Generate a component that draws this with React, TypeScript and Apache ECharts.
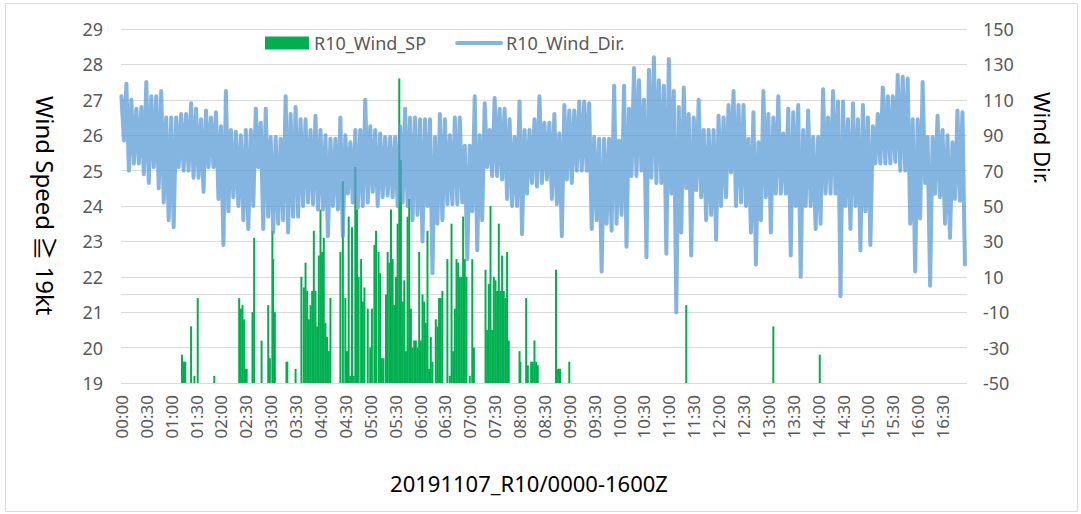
import React, { useEffect, useRef } from "react";
import * as echarts from "echarts";

// ---- categories: one per minute, 00:00 .. 16:59 ----
const N_MINUTES = 1020;
const CATEGORIES: string[] = Array.from({ length: N_MINUTES }, (_, m) =>
  `${String(Math.floor(m / 60)).padStart(2, "0")}:${String(m % 60).padStart(2, "0")}`
);

// ---- R10_Wind_SP (kt), only minutes with speed >= 19 kt: [minute, value] ----
const WIND_SP: [number, number][] = [
  [73, 19.8], [74, 19.6], [75, 19.6], [76, 19.6], [77, 19.6], [84, 20.6], [88, 19.2], [92, 21.4], [112, 19.2],
  [142, 21.4], [144, 21.1], [146, 21.2], [148, 20.8], [149, 19.4], [151, 19.4], [158, 21.0], [160, 23.1],
  [169, 20.2], [177, 21.2], [179, 19.7], [182, 23.3], [183, 22.5], [185, 21.0], [199, 19.6], [200, 19.6],
  [210, 19.4], [217, 22.0], [220, 21.7], [222, 22.4], [224, 21.6], [226, 20.8], [228, 21.2], [230, 21.6],
  [232, 23.3], [234, 21.6], [236, 20.6], [238, 22.6], [240, 23.9], [242, 22.7], [244, 23.1], [246, 20.7],
  [248, 20.3], [250, 19.9], [252, 21.4], [264, 22.7], [267, 24.7], [270, 21.4], [272, 19.9], [274, 23.7],
  [276, 19.2], [278, 23.4], [280, 19.2], [282, 25.1], [284, 23.9], [286, 22.0], [289, 22.5], [291, 21.3],
  [293, 21.7], [297, 21.1], [300, 20.0], [302, 21.1], [305, 22.9], [307, 23.3], [310, 22.7], [312, 22.1],
  [314, 19.7], [316, 19.7], [319, 21.5], [321, 22.7], [323, 22.4], [325, 23.9], [327, 22.5], [329, 21.2],
  [331, 22.0], [333, 23.5], [335, 27.6], [337, 25.3], [339, 21.3], [341, 21.9], [343, 19.9], [345, 23.7],
  [347, 24.2], [349, 21.1], [351, 20.0], [353, 20.2], [355, 20.2], [357, 20.0], [359, 22.7], [361, 20.2],
  [363, 21.5], [365, 21.3], [367, 20.7], [369, 23.3], [371, 19.4], [373, 20.3], [375, 19.6], [379, 20.8],
  [381, 20.6], [383, 21.4], [385, 21.4], [387, 21.6], [393, 22.5], [396, 19.2], [398, 23.5], [400, 19.9],
  [402, 21.1], [404, 22.5], [406, 22.4], [408, 22.0], [410, 22.0], [412, 23.7], [414, 22.5], [416, 22.0],
  [420, 19.2], [423, 22.5], [425, 20.0], [439, 22.2], [441, 20.5], [443, 21.8], [445, 24.0], [447, 20.5],
  [449, 22.0], [451, 21.9], [453, 21.6], [455, 23.5], [457, 21.6], [459, 22.6], [461, 21.6], [463, 21.4],
  [465, 22.7], [467, 20.2], [480, 19.9], [481, 19.6], [488, 21.4], [490, 19.5], [494, 19.6], [496, 19.6],
  [498, 20.2], [500, 19.6], [502, 19.5], [524, 22.2], [526, 19.4], [527, 19.4], [528, 19.4], [529, 19.4],
  [540, 19.6], [681, 21.2], [786, 20.6], [842, 19.8],
];

// ---- R10_Wind_Dir. (deg): one row per half hour, a reading every 3 minutes ----
const DIR_STEP = 3;
const WIND_DIR: number[][] = [
  [112, 87, 119, 70, 110, 74, 105, 74, 106, 68], // 00:00
  [120, 63, 112, 72, 112, 60, 115, 52, 100, 42], // 00:30
  [100, 38, 100, 72, 102, 70, 102, 70, 108, 66], // 01:00
  [105, 66, 99, 58, 104, 72, 100, 72, 103, 54], // 01:30
  [95, 28, 115, 47, 93, 55, 92, 50, 90, 42], // 02:00
  [93, 37, 93, 50, 105, 72, 97, 37, 105, 44], // 02:30
  [89, 35, 89, 40, 88, 42, 112, 35, 102, 44], // 03:00
  [106, 44, 99, 50, 99, 52, 93, 51, 101, 48], // 03:30
  [93, 48, 90, 33, 88, 50, 88, 48, 100, 33], // 04:00
  [90, 57, 86, 52, 93, 49, 93, 50, 110, 52], // 04:30
  [95, 58, 93, 50, 91, 55, 89, 56, 89, 55], // 05:00
  [89, 50, 95, 52, 105, 50, 100, 42, 100, 45], // 05:30
  [99, 30, 99, 50, 99, 12, 89, 40, 102, 42], // 06:00
  [99, 51, 90, 51, 100, 51, 100, 52, 84, 20], // 06:30
  [84, 47, 112, 25, 90, 42, 108, 72, 93, 67], // 07:00
  [111, 67, 105, 65, 105, 54, 99, 50, 89, 50], // 07:30
  [109, 34, 93, 57, 93, 63, 99, 61, 112, 63], // 08:00
  [97, 65, 97, 54, 102, 51, 91, 33, 107, 65], // 08:30
  [104, 63, 104, 70, 109, 70, 109, 70, 108, 37], // 09:00
  [89, 42, 88, 13, 88, 40, 88, 36, 118, 40], // 09:30
  [87, 45, 118, 27, 105, 67, 128, 67, 121, 70], // 10:00
  [110, 21, 127, 66, 134, 63, 121, 63, 118, 23], // 10:30
  [133, 57, 115, -10, 106, 35, 117, 60, 102, 22], // 11:00
  [100, 59, 110, 55, 93, 42, 93, 45, 93, 31], // 11:30
  [101, 50, 100, 55, 107, 69, 115, 50, 107, 52], // 12:00
  [107, 50, 88, 35, 103, 17, 86, 42, 115, 55], // 12:30
  [102, 35, 100, 57, 112, 57, 91, 57, 105, 22], // 13:00
  [103, 50, 107, 10, 93, 50, 104, 50, 89, 37], // 13:30
  [89, 40, 116, 57, 100, 57, 115, 57, 109, -1], // 14:00
  [109, 50, 99, 37, 108, 50, 99, 25, 107, 47], // 14:30
  [100, 28, 95, 74, 102, 74, 117, 74, 112, 74], // 15:00
  [112, 75, 124, 70, 123, 70, 122, 40, 99, 13], // 15:30
  [99, 43, 120, 63, 89, 5, 89, 57, 101, 55], // 16:00
  [93, 40, 90, 32, 86, 54, 104, 53, 103, 17], // 16:30
];

const X_TITLE = "20191107_R10/0000-1600Z";
const Y_LEFT_TITLE = "Wind Speed ≧ 19kt";
const Y_RIGHT_TITLE = "Wind Dir.";

const FONT = '"Noto Sans", "Noto Sans CJK TC", sans-serif';

export default function App() {
  const ref = useRef<HTMLDivElement>(null);

  useEffect(() => {
    if (!ref.current) return;
    const chart = echarts.init(ref.current, undefined, { renderer: "svg" });

    const speedData: (number | null)[] = CATEGORIES.map(() => null);
    WIND_SP.forEach(([m, v]) => {
      speedData[m] = v;
    });
    const dirData = WIND_DIR.flatMap((row, b) =>
      row.map((v, i) => [CATEGORIES[b * 30 + i * DIR_STEP], v])
    );

    const lineColor = "rgba(91,155,213,0.75)";

    chart.setOption({
      animation: false,
      backgroundColor: "#ffffff",
      textStyle: { fontFamily: FONT },
      grid: { left: 121, right: 114, top: 29, bottom: 131, containLabel: false },
      legend: {
        left: 265,
        top: 34,
        padding: 0,
        itemWidth: 44,
        itemHeight: 13,
        itemGap: 29,
        textStyle: { color: "#595959", fontSize: 18, fontFamily: FONT },
        data: [
          { name: "R10_Wind_SP", icon: "rect" },
          {
            name: "R10_Wind_Dir.",
            itemStyle: { opacity: 0 },
            lineStyle: { width: 4, color: lineColor, cap: "round" },
          },
        ],
      },
      xAxis: {
        type: "category",
        data: CATEGORIES,
        boundaryGap: true,
        axisLine: { lineStyle: { color: "#d9d9d9", width: 1 } },
        axisTick: { show: false },
        axisLabel: { interval: 29, rotate: 90, color: "#595959", fontSize: 17, margin: 12, fontFamily: FONT },
        splitLine: { show: false },
      },
      yAxis: [
        {
          type: "value",
          min: 19,
          max: 29,
          interval: 1,
          axisLine: { show: false },
          axisTick: { show: false },
          axisLabel: { color: "#595959", fontSize: 18, margin: 18, fontFamily: FONT },
          splitLine: { lineStyle: { color: "#d9d9d9", width: 1 } },
        },
        {
          type: "value",
          min: -50,
          max: 150,
          interval: 20,
          position: "right",
          axisLine: { show: false },
          axisTick: { show: false },
          axisLabel: { color: "#595959", fontSize: 18, margin: 16, fontFamily: FONT },
          splitLine: { show: false },
        },
      ],
      series: [
        {
          name: "R10_Wind_SP",
          type: "bar",
          yAxisIndex: 0,
          data: speedData,
          barWidth: 2,
          itemStyle: { color: "#00B050" },
          z: 2,
        },
        {
          name: "R10_Wind_Dir.",
          type: "line",
          yAxisIndex: 1,
          data: dirData,
          symbol: "none",
          showSymbol: false,
          lineStyle: { width: 4, color: lineColor, join: "round", cap: "round" },
          itemStyle: { color: lineColor },
          z: 3,
        },
      ],
      graphic: [
        {
          type: "rect",
          silent: true,
          shape: { x: 5.5, y: 3.5, width: 1072, height: 508 },
          style: { fill: "none", stroke: "#d9d9d9", lineWidth: 1 },
        },
        {
          type: "text",
          x: 45,
          y: 96,
          rotation: -Math.PI / 2,
          style: {
            text: Y_LEFT_TITLE,
            fontSize: 24,
            fontFamily: FONT,
            fill: "#000000",
            align: "left",
            verticalAlign: "middle",
          },
        },
        {
          type: "text",
          x: 1043,
          y: 92,
          rotation: -Math.PI / 2,
          style: {
            text: Y_RIGHT_TITLE,
            fontSize: 22,
            fontFamily: FONT,
            fill: "#000000",
            align: "left",
            verticalAlign: "middle",
          },
        },
        {
          type: "text",
          x: 529,
          y: 483,
          style: {
            text: X_TITLE,
            fontSize: 22,
            fontFamily: FONT,
            fill: "#000000",
            align: "center",
            verticalAlign: "middle",
          },
        },
      ],
    });

    return () => chart.dispose();
  }, []);

  return (
    <div
      ref={ref}
      style={{ position: "fixed", left: 0, top: 0, width: 1081, height: 514, background: "#fff" }}
    />
  );
}
